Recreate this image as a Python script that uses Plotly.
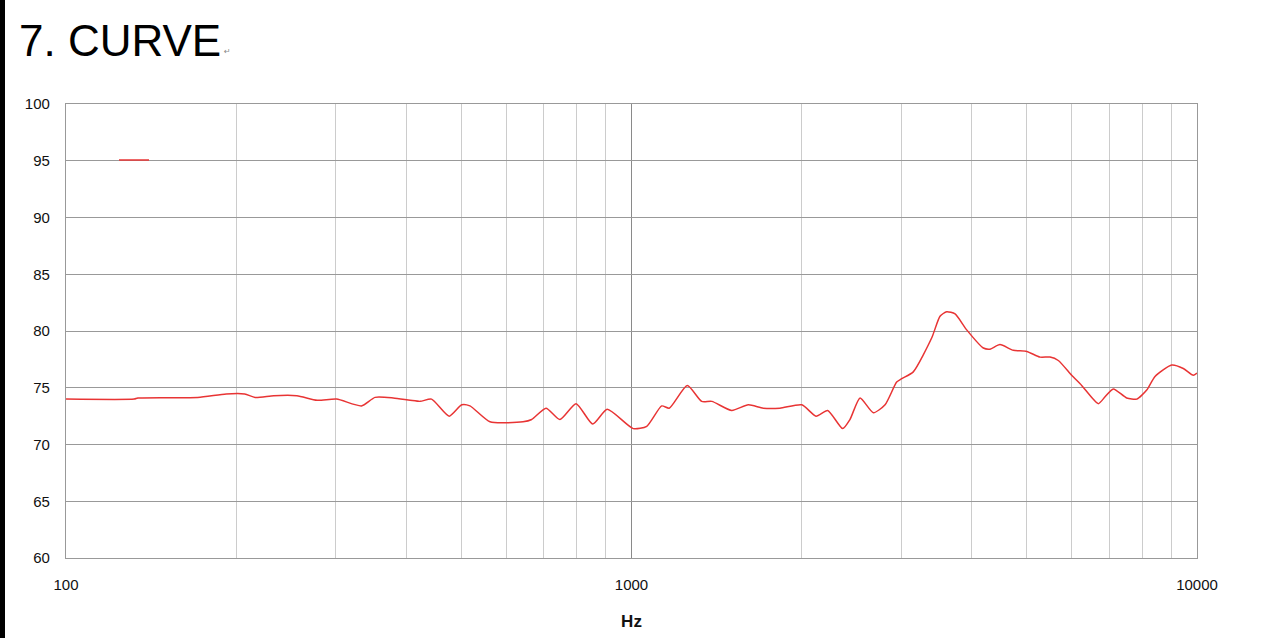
import plotly.graph_objects as go

# Frequency response data
freq_hz = [100, 132, 134, 171, 192, 207, 216, 233, 256, 278,
           301, 333, 352, 379, 406, 423, 443, 476, 501, 518,
           562, 643, 666, 706, 747, 798, 854, 906, 1007, 1064,
           1131, 1166, 1255, 1331, 1387, 1504, 1609, 1710, 1830, 2000,
           2120, 2223, 2363, 2434, 2536, 2677, 2808, 2944, 3005, 3150,
           3396, 3512, 3609, 3734, 3915, 4190, 4305, 4483, 4734, 5000,
           5278, 5497, 5685, 6003, 6253, 6690, 6877, 7112, 7510, 7823,
           8149, 8428, 9023, 9458, 9852, 10000]
spl_db = [74.0, 74.0, 74.1, 74.15, 74.45, 74.45, 74.15, 74.3, 74.3, 73.9,
          74.0, 73.4, 74.15, 74.1, 73.9, 73.8, 74.0, 72.5, 73.5, 73.4,
          72.0, 72.0, 72.2, 73.2, 72.2, 73.6, 71.8, 73.1, 71.4, 71.6,
          73.4, 73.2, 75.2, 73.8, 73.8, 73.0, 73.5, 73.2, 73.2, 73.5,
          72.5, 73.0, 71.4, 72.2, 74.1, 72.8, 73.5, 75.5, 75.8, 76.4,
          79.4, 81.3, 81.7, 81.5, 80.1, 78.5, 78.4, 78.8, 78.3, 78.2,
          77.7, 77.7, 77.4, 76.1, 75.2, 73.6, 74.2, 74.9, 74.1, 74.0,
          74.8, 76.0, 77.0, 76.7, 76.1, 76.3]

x_tick_vals = [100, 1000, 10000]
x_tick_text = ["100", "1000", "10000"]
x_minor_vals = [200, 300, 400, 500, 600, 700, 800, 900,
                2000, 3000, 4000, 5000, 6000, 7000, 8000, 9000]
y_tick_vals = [60, 65, 70, 75, 80, 85, 90, 95, 100]

title_text = "7. CURVE"
x_title = "Hz"

W, H = 1267, 638
L, R, T, B = 66, 70, 104, 80
PW, PH = W - L - R, H - T - B


def px(x):
    return (x - L) / PW


def py(y):
    return (H - B - y) / PH


fig = go.Figure()
fig.add_trace(go.Scatter(
    x=freq_hz, y=spl_db, mode="lines", name=" ",
    line=dict(color="rgb(232,52,52)", width=1.5, shape="spline", smoothing=0.6),
    showlegend=True,
))

tick_font = dict(family="Liberation Sans, Arial, sans-serif", size=15, color="#111")

fig.update_layout(
    width=W, height=H,
    margin=dict(l=L, r=R, t=T, b=B, pad=0, autoexpand=False),
    paper_bgcolor="white", plot_bgcolor="white",
    xaxis=dict(
        type="log", range=[2, 4], automargin=False,
        tickmode="array", tickvals=x_tick_vals, ticktext=x_tick_text,
        tickfont=tick_font, ticks="", ticklabelstandoff=13,
        showgrid=True, gridcolor="#8a8a8a", gridwidth=1,
        minor=dict(tickmode="array", tickvals=x_minor_vals, showgrid=True,
                   gridcolor="#cccccc", gridwidth=1.3, ticks=""),
        showline=True, linecolor="#999999", linewidth=1.3, mirror=True,
        zeroline=False,
        title=dict(text=x_title, font=dict(family="Liberation Sans, Arial, sans-serif",
                                           size=17, color="#111", weight="bold"),
                   standoff=22),
    ),
    yaxis=dict(
        range=[60, 100], tickmode="array", tickvals=y_tick_vals, automargin=False,
        tickfont=tick_font, ticks="", ticklabelstandoff=12,
        showgrid=True, gridcolor="#999999", gridwidth=1.3,
        showline=True, linecolor="#999999", linewidth=1.3, mirror=True,
        zeroline=False,
    ),
    legend=dict(x=px(114), xanchor="left", y=py(160), yanchor="middle",
                bgcolor="rgba(0,0,0,0)", borderwidth=0,
                font=dict(size=12, color="white")),
    showlegend=True,
    shapes=[
        dict(type="rect", xref="paper", yref="paper",
             x0=px(72), x1=px(302), y0=py(201), y1=py(116),
             fillcolor="white", line=dict(width=0), layer="between"),
        dict(type="rect", xref="paper", yref="paper",
             x0=px(0), x1=px(5), y0=py(H), y1=py(0),
             fillcolor="black", line=dict(width=0), layer="above"),
    ],
    annotations=[
        dict(text=title_text, xref="paper", yref="paper", x=px(17), y=py(40),
             xanchor="left", yanchor="middle", showarrow=False,
             font=dict(family="Liberation Sans, Arial, sans-serif", size=44, color="black")),
        dict(text="↵", xref="paper", yref="paper", x=px(222), y=py(51),
             xanchor="left", yanchor="middle", showarrow=False,
             font=dict(family="DejaVu Sans", size=8, color="#888")),
    ],
)

fig.write_html("out.html", config={"displayModeBar": False},
               post_script="document.body.style.margin='0';document.body.style.padding='0';")
